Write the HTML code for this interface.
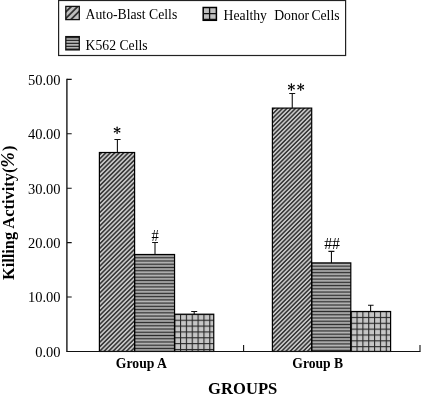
<!DOCTYPE html>
<html><head><meta charset="utf-8">
<style>
html,body{margin:0;padding:0;background:#fff;}
svg{display:block;filter:grayscale(1);}
text{font-family:"Liberation Serif",serif;fill:#000;}
.b{font-weight:bold;}
</style></head><body>
<svg width="422" height="398" viewBox="0 0 422 398">
<defs>
<linearGradient id="diag" gradientUnits="userSpaceOnUse" x1="134.933" y1="134.933" x2="137.168" y2="137.168" spreadMethod="repeat"><stop offset="0" stop-color="#c6c6c6"/><stop offset="0.13" stop-color="#c6c6c6"/><stop offset="0.37" stop-color="#3a3a3a"/><stop offset="0.63" stop-color="#3a3a3a"/><stop offset="0.87" stop-color="#c6c6c6"/><stop offset="1" stop-color="#c6c6c6"/></linearGradient>
<linearGradient id="diagB" href="#diag" x1="226.770" y1="226.770" x2="228.930" y2="228.930"/>
<linearGradient id="horiz" gradientUnits="userSpaceOnUse" x1="0" y1="254.5" x2="0" y2="257.74" spreadMethod="repeat"><stop offset="0" stop-color="#2c2c2c"/><stop offset="0.24" stop-color="#868686"/><stop offset="0.5" stop-color="#b6b6b6"/><stop offset="0.76" stop-color="#868686"/><stop offset="1" stop-color="#2c2c2c"/></linearGradient>
<linearGradient id="horizB" href="#horiz" y1="262.9" y2="266.14"/>
<pattern id="grid" width="5.85" height="5.85" patternUnits="userSpaceOnUse" x="180" y="319.7">
<rect width="5.85" height="5.85" fill="#c6c6c6"/>
<rect width="1.1" height="5.85" x="0" fill="#262626"/>
<rect width="5.85" height="1.1" y="0" fill="#262626"/>
</pattern>
<pattern id="gridB" href="#grid" x="356.5" y="316.9"/>
</defs>
<rect width="422" height="398" fill="#fff"/>
<!-- legend -->
<rect x="58.6" y="0.5" width="287" height="55" fill="#fff" stroke="#222" stroke-width="1.2"/>
<clipPath id="c1"><rect x="65.8" y="6.4" width="13.5" height="13.2"/></clipPath>
<rect x="65.8" y="6.4" width="13.5" height="13.2" fill="#c0c0c0"/>
<path clip-path="url(#c1)" d="M60,17.8L74,3.8M60,24.2L82,2.2M66,24.4L84,6.4" stroke="#333" stroke-width="1.8"/>
<rect x="65.8" y="6.4" width="13.5" height="13.2" fill="none" stroke="#111" stroke-width="1.3"/>
<g>
<rect x="65.8" y="36.6" width="13.5" height="13.3" fill="#b4b4b4"/>
<path d="M66,37.5H79M66,40.4H79M66,43.4H79M66,46.4H79M66,49.2H79" stroke="#2c2c2c" stroke-width="1.4"/>
<rect x="65.8" y="36.6" width="13.5" height="13.3" fill="none" stroke="#111" stroke-width="1.3"/>
</g>
<g>
<rect x="203.2" y="7.5" width="13.2" height="12.8" fill="#c0c0c0" stroke="#000" stroke-width="1.5"/>
<path d="M209.6,7.5V20.3M203.2,13.6H216.4M203.2,19.4H216.4" stroke="#111" stroke-width="1.3"/>
</g>
<text x="85.6" y="18.7" font-size="13.7">Auto-Blast Cells</text>
<text x="85.6" y="50" font-size="13.7">K562 Cells</text>
<text x="223.6" y="20" font-size="13.7">Healthy</text>
<text x="274.2" y="20" font-size="13.7">Donor</text>
<text x="311.4" y="20" font-size="13.7">Cells</text>

<!-- bars -->
<rect x="99.4" y="152.5" width="35.2" height="198.95" fill="url(#diag)"/>
<rect x="134.6" y="254.5" width="39.95" height="96.95" fill="url(#horiz)"/>
<rect x="174.55" y="314.2" width="39.2" height="37.25" fill="url(#grid)"/>
<rect x="272.4" y="108.1" width="39.3" height="243.35" fill="url(#diagB)"/>
<rect x="311.7" y="262.9" width="39.1" height="88.55" fill="url(#horizB)"/>
<rect x="350.8" y="311.5" width="39.8" height="39.95" fill="url(#gridB)"/>
<g stroke="#000" stroke-width="1.2" fill="none">
<rect x="99.4" y="152.5" width="35.2" height="198.95"/>
<rect x="134.6" y="254.5" width="39.95" height="96.95"/>
<rect x="174.55" y="314.2" width="39.2" height="37.25"/>
<rect x="272.4" y="108.1" width="39.3" height="243.35"/>
<rect x="311.7" y="262.9" width="39.1" height="88.55"/>
<rect x="350.8" y="311.5" width="39.8" height="39.95"/>
</g>
<!-- error bars -->
<g stroke="#111" stroke-width="1.1" fill="none">
<path d="M117.4,152.5V139.5M114.4,139.5H120.6"/>
<path d="M155,254.5V242.5M152.1,242.5H158"/>
<path d="M194.2,314.2V311.5M191.2,311.5H197.2"/>
<path d="M292.25,108.1V93.5M289.2,93.5H295.2"/>
<path d="M331.45,262.9V251.4M328.4,251.4H334.4"/>
<path d="M370.6,311.5V305.2M368.0,305.2H373.6"/>
</g>
<!-- axes -->
<g stroke="#111" stroke-width="1.1" fill="none">
<path d="M66.9,78.85V351.45" stroke-width="1.35"/><path d="M66.3,351.45H420.5"/>
<path d="M67,79.40H71.7M67,133.81H71.7M67,188.22H71.7M67,242.63H71.7M67,297.04H71.7"/>
<path d="M243.6,351.45V345M420,351.45V345"/>
</g>
<!-- tick labels -->
<g font-size="14.5" text-anchor="end">
<text x="60.6" y="84.8">50.00</text>
<text x="60.6" y="139.2">40.00</text>
<text x="60.6" y="193.6">30.00</text>
<text x="60.6" y="248.0">20.00</text>
<text x="60.6" y="302.4">10.00</text>
<text x="60.6" y="356.8">0.00</text>
</g>
<text class="b" font-size="13.7" x="141.4" y="367.5" text-anchor="middle">Group A</text>
<text class="b" font-size="13.6" x="317.7" y="367.5" text-anchor="middle">Group B</text>
<text class="b" font-size="16.6" x="242.7" y="394.3" text-anchor="middle">GROUPS</text>
<text class="b" font-size="16.4" transform="translate(14.4,280.1) rotate(-90)">Killing Activity(<tspan font-style="italic" font-size="18.6" dx="-0.2">%</tspan><tspan dx="1.4">)</tspan></text>
<!-- significance marks -->
<path d="M117.40,130.30L117.82,127.27L116.38,127.27L116.80,130.30ZM116.38,127.27a0.72,0.72 0 1,0 1.44,0a0.72,0.72 0 1,0 -1.44,0ZM116.80,130.30L116.38,133.33L117.82,133.33L117.40,130.30ZM116.38,133.33a0.72,0.72 0 1,0 1.44,0a0.72,0.72 0 1,0 -1.44,0ZM117.25,130.56L120.17,129.36L119.45,128.11L116.95,130.04ZM119.09,128.74a0.72,0.72 0 1,0 1.44,0a0.72,0.72 0 1,0 -1.44,0ZM117.25,130.04L114.75,128.11L114.03,129.36L116.95,130.56ZM113.67,128.74a0.72,0.72 0 1,0 1.44,0a0.72,0.72 0 1,0 -1.44,0ZM116.95,130.04L114.03,131.24L114.75,132.49L117.25,130.56ZM113.67,131.87a0.72,0.72 0 1,0 1.44,0a0.72,0.72 0 1,0 -1.44,0ZM116.95,130.56L119.45,132.49L120.17,131.24L117.25,130.04ZM119.09,131.87a0.72,0.72 0 1,0 1.44,0a0.72,0.72 0 1,0 -1.44,0ZM291.70,87.10L292.12,84.07L290.68,84.07L291.10,87.10ZM290.68,84.07a0.72,0.72 0 1,0 1.44,0a0.72,0.72 0 1,0 -1.44,0ZM291.10,87.10L290.68,90.13L292.12,90.13L291.70,87.10ZM290.68,90.13a0.72,0.72 0 1,0 1.44,0a0.72,0.72 0 1,0 -1.44,0ZM291.55,87.36L294.47,86.16L293.75,84.91L291.25,86.84ZM293.39,85.53a0.72,0.72 0 1,0 1.44,0a0.72,0.72 0 1,0 -1.44,0ZM291.55,86.84L289.05,84.91L288.33,86.16L291.25,87.36ZM287.97,85.53a0.72,0.72 0 1,0 1.44,0a0.72,0.72 0 1,0 -1.44,0ZM291.25,86.84L288.33,88.04L289.05,89.29L291.55,87.36ZM287.97,88.66a0.72,0.72 0 1,0 1.44,0a0.72,0.72 0 1,0 -1.44,0ZM291.25,87.36L293.75,89.29L294.47,88.04L291.55,86.84ZM293.39,88.66a0.72,0.72 0 1,0 1.44,0a0.72,0.72 0 1,0 -1.44,0ZM301.00,87.10L301.42,84.07L299.98,84.07L300.40,87.10ZM299.98,84.07a0.72,0.72 0 1,0 1.44,0a0.72,0.72 0 1,0 -1.44,0ZM300.40,87.10L299.98,90.13L301.42,90.13L301.00,87.10ZM299.98,90.13a0.72,0.72 0 1,0 1.44,0a0.72,0.72 0 1,0 -1.44,0ZM300.85,87.36L303.77,86.16L303.05,84.91L300.55,86.84ZM302.69,85.53a0.72,0.72 0 1,0 1.44,0a0.72,0.72 0 1,0 -1.44,0ZM300.85,86.84L298.35,84.91L297.63,86.16L300.55,87.36ZM297.27,85.53a0.72,0.72 0 1,0 1.44,0a0.72,0.72 0 1,0 -1.44,0ZM300.55,86.84L297.63,88.04L298.35,89.29L300.85,87.36ZM297.27,88.66a0.72,0.72 0 1,0 1.44,0a0.72,0.72 0 1,0 -1.44,0ZM300.55,87.36L303.05,89.29L303.77,88.04L300.85,86.84ZM302.69,88.66a0.72,0.72 0 1,0 1.44,0a0.72,0.72 0 1,0 -1.44,0Z" fill="#000"/>
<text font-size="14.5" transform="translate(155.2,241) scale(1,1.1)" text-anchor="middle">#</text>
<text font-size="15.8" x="332.05" y="248.7" text-anchor="middle">##</text>
</svg>
</body></html>
